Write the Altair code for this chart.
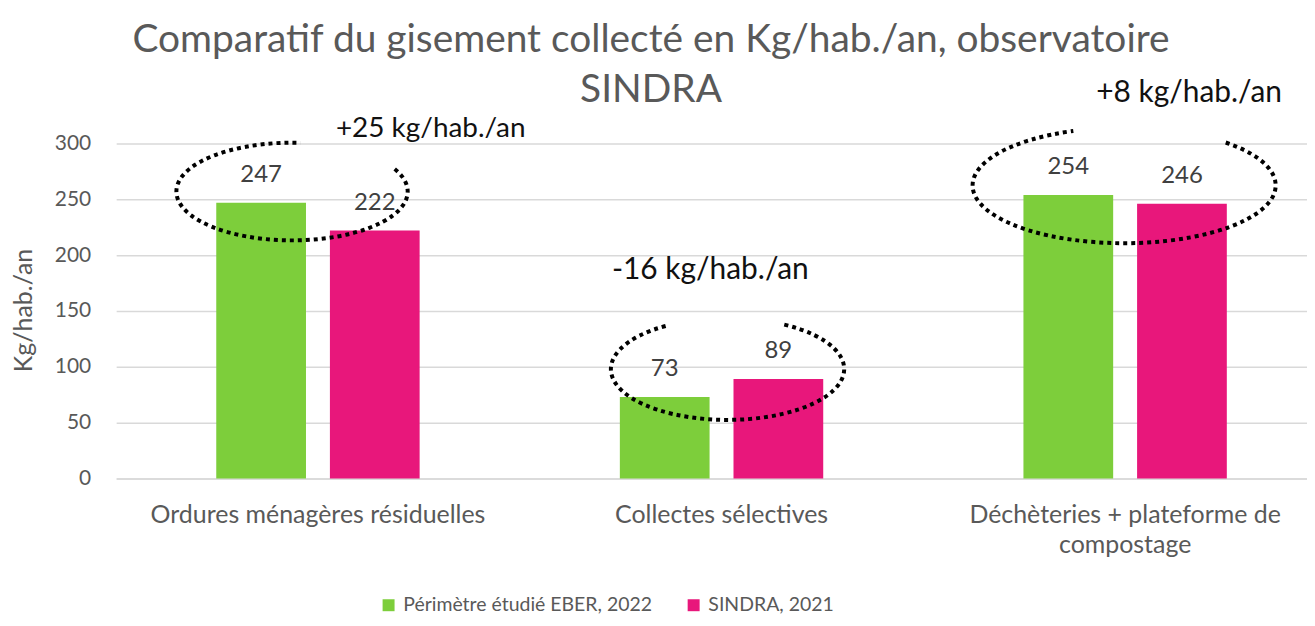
import math
import altair as alt
import pandas as pd

# ---------------- data ----------------
categories = [
    "Ordures ménagères résiduelles",
    "Collectes sélectives",
    "Déchèteries + plateforme de compostage",
]
series = ["Périmètre étudié EBER, 2022", "SINDRA, 2021"]
eber_2022 = [247, 73, 254]
sindra_2021 = [222, 89, 246]
colors = ["#7DCE3B", "#E8177B"]

annotations = ["+25 kg/hab./an", "-16 kg/hab./an", "+8 kg/hab./an"]
annot_y = [313, 187, 345]          # value level of the annotation text
annot_dx = [18, -110, -29]         # pixel shift from category centre
annot_size = [28, 30, 30]

ellipse_y = [257, 98, 262.5]       # value level of ellipse centre
ellipse_dx = [-26, 6, -1]          # pixel shift from category centre
ellipse_rx = [116, 117, 152]
ellipse_ry = [49, 51, 58]
ellipse_gap = [(-85.8, -27.4), (-120.3, -60.9), (-109.6, -47.9)]  # degrees, gap at top

FONT = "Lato"
GREY = "#595959"

rows = []
for i, c in enumerate(categories):
    rows.append({"category": c, "series": series[0], "value": eber_2022[i]})
    rows.append({"category": c, "series": series[1], "value": sindra_2021[i]})
df = pd.DataFrame(rows)

x_scale = alt.Scale(domain=categories, range=[1.5, 1216], paddingInner=0, paddingOuter=0)
xo_scale = alt.Scale(domain=series, range=[100.4, 304.4], paddingInner=0.2105, paddingOuter=0)
y_scale = alt.Scale(domain=[0, 300], nice=False)

label_expr = ("datum.label == 'Déchèteries + plateforme de compostage' ? "
              "['Déchèteries + plateforme de', 'compostage'] : datum.label")

bars = alt.Chart(df).mark_bar().encode(
    x=alt.X("category:N", sort=categories, scale=x_scale,
            axis=alt.Axis(title=None, labelAngle=0, labelFontSize=25, labelColor=GREY,
                          labelFont=FONT, labelPadding=24, labelLimit=0,
                          labelLineHeight=30, labelExpr=label_expr, ticks=False,
                          domainColor="#d9d9d9", domainWidth=1.5, grid=False)),
    xOffset=alt.XOffset("series:N", sort=series, scale=xo_scale),
    y=alt.Y("value:Q", scale=y_scale,
            axis=alt.Axis(title="Kg/hab./an", values=[0, 50, 100, 150, 200, 250, 300],
                          labelFontSize=21, labelColor=GREY, labelFont=FONT,
                          labelPadding=24, ticks=False, domain=False,
                          gridColor="#d9d9d9", gridWidth=1.5,
                          titleFontSize=25, titleColor=GREY, titleFont=FONT,
                          titleFontWeight="normal", titleX=-91, titleY=167,
                          titleAngle=270, titleAlign="center", titleBaseline="middle")),
    color=alt.Color("series:N", sort=series, scale=alt.Scale(domain=series, range=colors),
                    legend=alt.Legend(title=None, orient="none", legendX=265, legendY=453,
                                      direction="horizontal", symbolType="square",
                                      symbolSize=144, symbolStrokeWidth=0,
                                      labelFontSize=19.5, labelColor=GREY, labelFont=FONT,
                                      labelLimit=0, columnPadding=32, labelOffset=5,
                                      padding=0)),
)

values_txt = alt.Chart(df).mark_text(dy=-28, fontSize=24, color="#404040", font=FONT,
                                     baseline="middle").encode(
    x=alt.X("category:N", sort=categories, scale=x_scale),
    xOffset=alt.XOffset("series:N", sort=series, scale=xo_scale),
    y=alt.Y("value:Q", scale=y_scale),
    text=alt.Text("value:Q"),
)

layers = [bars, values_txt]

for i, c in enumerate(categories):
    rx, ry, dx = ellipse_rx[i], ellipse_ry[i], ellipse_dx[i]
    a1, a2 = ellipse_gap[i]
    k = ry / rx
    ox = dx / rx
    sx, sy = ox + math.cos(math.radians(a2)), k * math.sin(math.radians(a2))
    ex, ey = ox + math.cos(math.radians(a1)), k * math.sin(math.radians(a1))
    path = f"M{sx:.4f},{sy:.4f} A1,{k:.4f} 0 1,1 {ex:.4f},{ey:.4f}"
    edf = pd.DataFrame({"category": [c], "y": [ellipse_y[i]]})
    layers.append(
        alt.Chart(edf).mark_point(shape=path, size=(2 * rx) ** 2, filled=False,
                                  stroke="black", strokeWidth=4, strokeDash=[4, 4],
                                  opacity=1).encode(
            x=alt.X("category:N", sort=categories, scale=x_scale),
            y=alt.Y("y:Q", scale=y_scale),
        )
    )
    adf = pd.DataFrame({"category": [c], "y": [annot_y[i]], "t": [annotations[i]]})
    layers.append(
        alt.Chart(adf).mark_text(align="left", baseline="middle", dx=annot_dx[i],
                                 fontSize=annot_size[i], color="#111111", font=FONT).encode(
            x=alt.X("category:N", sort=categories, scale=x_scale),
            y=alt.Y("y:Q", scale=y_scale),
            text="t:N",
        )
    )

chart = alt.layer(*layers).properties(
    width=1196,
    height=336,
    padding={"left": 107, "top": 135, "right": 0, "bottom": 139},
    autosize=alt.AutoSizeParams(type="none"),
    title=alt.TitleParams(
        text=["Comparatif du gisement collecté en Kg/hab./an, observatoire", "SINDRA"],
        fontSize=39, color=GREY, font=FONT, fontWeight="normal",
        lineHeight=50, anchor="middle", dx=-60, dy=36,
    ),
).configure_view(stroke=None)

chart.save("out.html", embed_options={"renderer": "svg", "actions": False})
